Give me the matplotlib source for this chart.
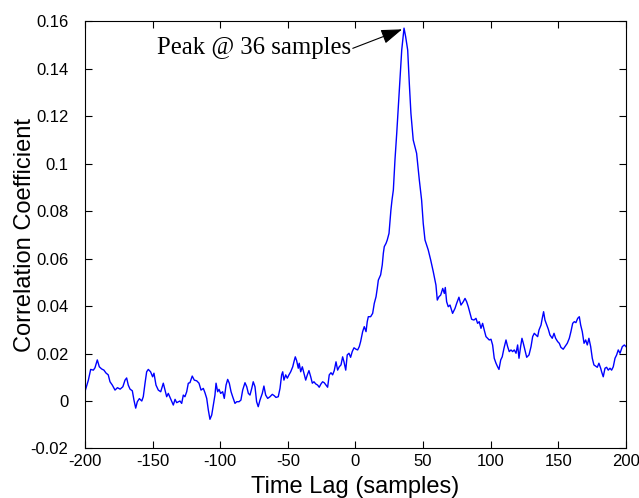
import matplotlib
matplotlib.use("Agg")
import matplotlib.pyplot as plt

# values
lags = [
    -200, -197.5, -195.8, -193.8, -192.6, -190.9, -189.4, -187.7, -186, -184.5,
    -182.8, -181.5, -179.8, -177.8, -176, -174, -172, -170.4, -169.2, -168,
    -166.7, -165, -163.8, -162.5, -161.3, -159.8, -158, -156.9, -155.6, -154.4,
    -153.2, -151.5, -150, -149, -147.5, -145.8, -144, -142.1, -140.8, -139.6,
    -138.4, -136.7, -134.7, -133.4, -132.2,
    -129.8, -128.5, -127.3, -126.1, -124.8, -123.6, -122.4, -120.7, -119.2, -117.4,
    -115.7, -114.2, -112.5, -111.3, -110, -108.8, -107.6, -106.3, -105.1, -103.9,
    -103.1, -101.9, -100.9, -99.7, -98.2, -97, -95.7, -94.5, -93.3, -92,
    -90.8, -89.1, -87.8, -86.1, -84.7, -83.4, -81.7, -80.4, -79.2, -78,
    -76.7, -75.6, -74.3, -73.1, -71.9, -70.6, -68.9, -67.7, -66.4, -64.9,
    -63.2, -61.5,
    -60, -58.8, -57.1, -55.8, -54.6, -53.8, -52.9, -51.6, -50.4, -49.2,
    -47.9, -46.4, -45.5, -44.5, -43.5, -42.3, -41.6, -40.5, -39.3, -38.1,
    -36.8, -35.6, -34.4, -33.1, -31.9, -30.7, -29.4, -28, -26.8, -25.5,
    -24.3, -23.1, -21.8, -20.6, -19.4, -18.1, -16.9, -15.7, -14.4, -13.2,
    -12, -10.7, -9.5, -8.5, -7.2, -6.1, -4.8, -3.6, -2.4, -1.1,
    0.4, 1.6, 2.8, 3.8, 5.3, 6.5, 7.8, 8.7, 9.5, 11.2,
    12.7, 13.9, 15.2, 16.1, 16.9, 18.6, 19.8, 20.6, 21.3, 22.6,
    23.5, 24.8, 25.5, 26.2, 27, 28, 29.2, 30.5, 31.7, 32.9,
    34.2, 35.9, 37.1, 38.6, 39.8, 41, 42.7, 45.2, 47.2, 48.9,
    50.1, 51.4, 53.8, 55.6, 57.5, 59.5, 60.5, 61.7, 63, 64.5,
    65.7, 66.4, 67.4, 68.6, 69.9, 71.8, 73.6, 74.8, 76.5, 78,
    79.7, 81, 82.2, 83.4, 84.7, 85.9, 87.6, 89.1, 90.3, 91.5,
    92.8, 94, 95.2, 96.5, 97.7, 98.9, 100.2, 101.4, 102.6, 103.9,
    105.1, 106.1, 107.4, 108.5, 109.8, 111.3, 112.5, 113.7, 115, 116.2,
    117.4, 118.7, 119.9, 120.9, 122.1, 123.1, 124.1, 125.3, 126.6, 128.3,
    129.8, 131, 132.2, 133.5, 134.7, 135.7, 137.2, 138.1, 139.1, 140.1,
    141.4, 142.6, 143.8, 145.5, 146.8, 148, 149.5, 150.7, 151.9, 153.6,
    154.9, 156.6, 158.1, 159.3, 160.6, 161.8, 163, 164.3, 165.5, 166.5,
    167.7, 169, 170.2, 171.4, 172.6, 173.9, 175.1, 176.3, 177.6, 178.8,
    180, 181.3, 182, 183.2, 184.5, 185.7, 186.9, 188.2, 189.4, 190.6,
    191.9, 193.1, 194.3, 195.6, 197.3, 198.8, 200,
]

corr = [
    0.004, 0.0088, 0.0133, 0.013, 0.014, 0.0173, 0.0144, 0.0135, 0.013, 0.0118,
    0.011, 0.0081, 0.0067, 0.0046, 0.0056, 0.005, 0.006, 0.0088, 0.0097, 0.0067,
    0.005, 0.0043, 0.0004, -0.003, -0.0003, 0.001, 0.0, 0.0018, 0.0075, 0.0123,
    0.0133, 0.0123, 0.0102, 0.0117, 0.0067, 0.0046, 0.0039, 0.0075, 0.0046, 0.0018,
    0.0032, 0.001, -0.0017, 0.0007, -0.0007,
    0.0, -0.001, 0.0025, 0.0018, 0.0039, 0.0075, 0.0077, 0.0105, 0.0088, 0.0085,
    0.0075, 0.0046, 0.0053, 0.0035, 0.0011, -0.0038, -0.0077, -0.0059, -0.0017, 0.0025,
    0.0075, 0.0039, 0.0049, 0.0032, 0.0039, 0.0011, 0.0067, 0.0091, 0.0075, 0.0039,
    0.0018, -0.001, -0.0003, -0.0003, 0.0004, 0.0046, 0.0077, 0.006, 0.0032, 0.0025,
    0.0053, 0.0081, 0.006, -0.0003, -0.0024, 0.0004, 0.0032, 0.0063, 0.0025, 0.0011,
    0.0018, 0.0028,
    0.0022, 0.0015, 0.0018, 0.0053, 0.011, 0.0123, 0.0088, 0.011, 0.0096, 0.011,
    0.0123, 0.0144, 0.0165, 0.0186, 0.017, 0.0138, 0.0159, 0.0123, 0.0144, 0.0117,
    0.0088, 0.011, 0.0128, 0.0102, 0.0075, 0.0081, 0.0072, 0.0067, 0.0058, 0.0072,
    0.0081, 0.0077, 0.0067, 0.0058, 0.011, 0.0119, 0.011, 0.0128, 0.0165, 0.013,
    0.0144, 0.0152, 0.0186, 0.0165, 0.013, 0.0194, 0.0201, 0.0184, 0.0208, 0.0224,
    0.0218, 0.0215, 0.0229, 0.025, 0.0292, 0.0313, 0.0292, 0.0334, 0.0355, 0.0355,
    0.0369, 0.0411, 0.0439, 0.0474, 0.0509, 0.0531, 0.0573, 0.0622, 0.065, 0.0664,
    0.0678, 0.0706, 0.0755, 0.0804, 0.0846, 0.0888, 0.1015, 0.1127, 0.1239, 0.1352,
    0.1478, 0.157, 0.1534, 0.1478, 0.1338, 0.1211, 0.1099, 0.1043, 0.0931, 0.0846,
    0.0748, 0.0678, 0.0636, 0.0594, 0.0545, 0.0488, 0.0425, 0.0439, 0.0446, 0.0474,
    0.0453, 0.0478, 0.0418, 0.0397, 0.0404, 0.0369, 0.039, 0.0411, 0.0437, 0.0404,
    0.0418, 0.0432, 0.0418, 0.0397, 0.0369, 0.0344, 0.0341, 0.0348, 0.0327, 0.0334,
    0.0306, 0.0327, 0.0299, 0.0271, 0.0264, 0.0257, 0.026, 0.0236, 0.018, 0.0159,
    0.0144, 0.0133, 0.0173, 0.0186, 0.0222, 0.0257, 0.0229, 0.0208, 0.0215, 0.0208,
    0.0215, 0.0201, 0.0236, 0.018, 0.0229, 0.0264, 0.0243, 0.0215, 0.0184, 0.0194,
    0.0229, 0.0271, 0.0285, 0.0278, 0.0271, 0.0299, 0.032, 0.0348, 0.0376, 0.0341,
    0.032, 0.0302, 0.0278, 0.0264, 0.0285, 0.0264, 0.025, 0.0243, 0.0226, 0.0218,
    0.0229, 0.0243, 0.0264, 0.0292, 0.0327, 0.0334, 0.033, 0.0348, 0.0355, 0.032,
    0.0292, 0.0243, 0.0257, 0.0236, 0.0264, 0.0229, 0.018, 0.0152, 0.0147, 0.0142,
    0.0159, 0.0138, 0.0123, 0.0102, 0.0138, 0.0142, 0.013, 0.0138, 0.013, 0.0144,
    0.018, 0.0194, 0.0215, 0.0201, 0.0229, 0.0236, 0.0229,
]

xticks = [-200, -150, -100, -50, 0, 50, 100, 150, 200]
yticks = [-0.02, 0, 0.02, 0.04, 0.06, 0.08, 0.1, 0.12, 0.14, 0.16]
ytick_labels = ['-0.02', '0', '0.02', '0.04', '0.06', '0.08', '0.1', '0.12', '0.14', '0.16']

peak_lag = 36
peak_val = 0.157
note = 'Peak @ 36 samples'

plt.rcParams['font.family'] = ['Liberation Sans', 'DejaVu Sans']

fig = plt.figure(figsize=(6.39, 4.98), dpi=100)
ax = fig.add_axes([0.133, 0.0994, 0.8466, 0.8584])

ax.plot(lags, corr, color='#0000ff', lw=1.0)

ax.set_xlim(-200, 200)
ax.set_ylim(-0.02, 0.16)
ax.set_xticks(xticks)
ax.set_xticklabels([str(t) for t in xticks])
ax.set_yticks(yticks)
ax.set_yticklabels(ytick_labels)
ax.tick_params(direction='in', length=5, width=0.8, top=True, right=True,
               labelsize=12)
ax.tick_params(axis='y', pad=12)
ax.tick_params(axis='x', pad=4)
for s in ax.spines.values():
    s.set_linewidth(0.8)

ax.set_xlabel('Time Lag (samples)', fontsize=17, labelpad=5)
ax.set_ylabel('Correlation Coefficient', fontsize=17, labelpad=-4)

# annotation text and arrow
ax.text(-146.8, 0.1461, note, family=['Liberation Serif', 'DejaVu Serif'],
        fontsize=17.8, ha='left', va='baseline')
ax.annotate('', xy=(peak_lag - 1.5, peak_val - 0.0005), xytext=(-2.0, 0.1485),
            arrowprops=dict(arrowstyle='-|>,head_length=1.3,head_width=0.45',
                            color='black', lw=0.8, shrinkA=0, shrinkB=0))

fig.savefig('out.png', dpi=100)
